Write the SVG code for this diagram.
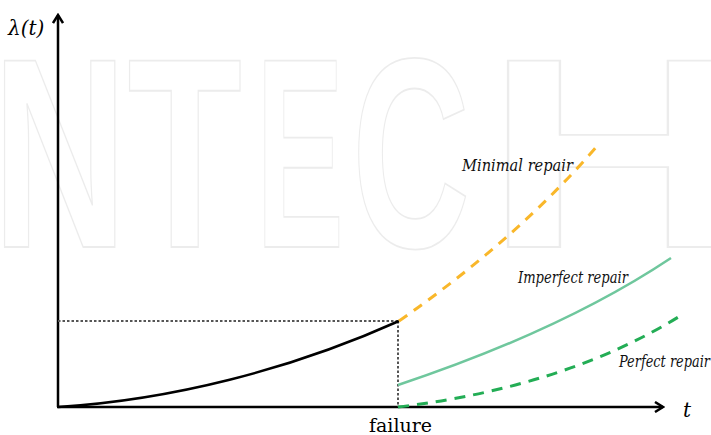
<svg xmlns="http://www.w3.org/2000/svg" width="711" height="435" viewBox="0 0 711 435">
<style>
.wm{font-family:"Liberation Sans","DejaVu Sans",sans-serif;font-weight:bold;font-size:271px;fill:none;stroke:#ececec;stroke-width:1.8}
.axis{stroke:#000;stroke-width:2.5;fill:none}
.guide{stroke:#555;stroke-width:2;stroke-dasharray:2.5,2;fill:none}
.lbl{font-family:'DejaVu Serif',serif;font-style:italic;font-size:17px;fill:#111}
.math{font-family:'DejaVu Serif',serif;font-style:italic;font-size:20px;fill:#000}
</style>
<defs>
<marker id="arr" viewBox="0 0 12 12" refX="10" refY="6" markerWidth="12" markerHeight="12" markerUnits="userSpaceOnUse" orient="auto">
<path d="M2,1 L10,6 L2,11" fill="none" stroke="#000" stroke-width="2.5" stroke-linejoin="miter"/>
</marker>
</defs>
<rect width="711" height="435" fill="#fff"/>
<g id="watermark">
<text class="wm" x="-8" y="247" textLength="250" lengthAdjust="spacingAndGlyphs">NT</text>
<text class="wm" x="256" y="247" textLength="88" lengthAdjust="spacingAndGlyphs">E</text>
<text class="wm" x="352" y="247" textLength="118" lengthAdjust="spacingAndGlyphs">C</text>
<text class="wm" x="484" y="247" textLength="260" lengthAdjust="spacingAndGlyphs">H</text>
</g>
<g id="axes">
<line class="axis" x1="58" y1="407" x2="58" y2="15" marker-end="url(#arr)"/>
<line class="axis" x1="57" y1="407" x2="663" y2="407" marker-end="url(#arr)"/>
<text class="math" x="8" y="35">λ(t)</text>
<text class="math" x="683" y="417">t</text>
<text x="369" y="432" font-family="'DejaVu Serif',serif" font-size="19" fill="#000" textLength="63" lengthAdjust="spacingAndGlyphs">failure</text>
</g>
<g id="connectors">
<path class="guide" d="M58,321 H399"/>
<path class="guide" d="M398,321 V407"/>
<path d="M58,407 C170,400 290,370 399,321" fill="none" stroke="#000" stroke-width="2.5"/>
<path d="M399,321 Q518,238 598,145" fill="none" stroke="#F9B72A" stroke-width="3" stroke-dasharray="10,8"/>
<path d="M398,385 Q563,330 671,258" fill="none" stroke="#6FC79D" stroke-width="2.5"/>
<path d="M398,407 Q565,387 680,316" fill="none" stroke="#23AD55" stroke-width="3" stroke-dasharray="11,8"/>
</g>
<g id="label-minimal"><text class="lbl" x="462" y="171" textLength="111" lengthAdjust="spacingAndGlyphs">Minimal repair</text></g>
<g id="label-imperfect"><text class="lbl" x="518" y="283" textLength="110" lengthAdjust="spacingAndGlyphs">Imperfect repair</text></g>
<g id="label-perfect"><text class="lbl" x="619" y="367" textLength="91" lengthAdjust="spacingAndGlyphs">Perfect repair</text></g>
</svg>
